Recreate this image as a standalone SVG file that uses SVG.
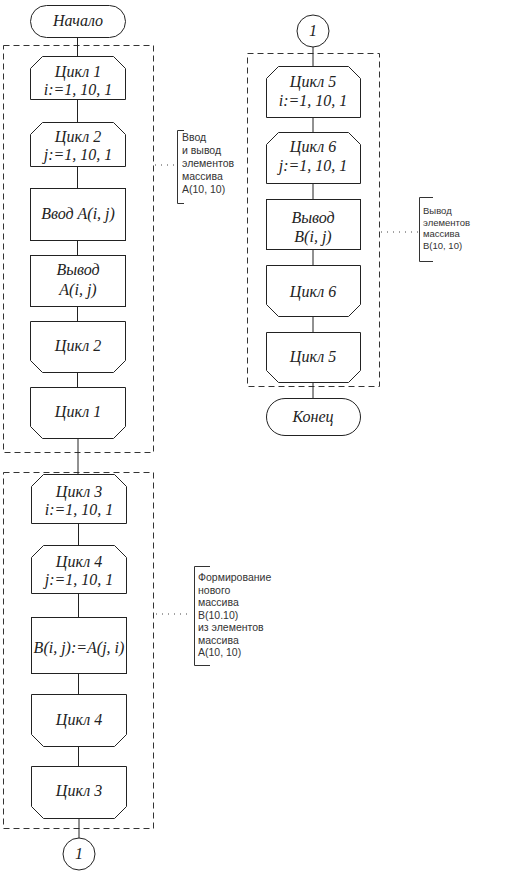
<svg xmlns="http://www.w3.org/2000/svg" width="512" height="875" viewBox="0 0 512 875">
<style>
.n{fill:#fff;stroke:#222;stroke-width:1}
.t{font-family:"Liberation Serif","Times New Roman",serif;font-style:italic;font-size:16px;fill:#222;text-anchor:middle}
.g{fill:none;stroke:#333;stroke-width:1;stroke-dasharray:6,4}
.c{stroke:#222;stroke-width:1;fill:none}
.b{fill:none;stroke:#333;stroke-width:1}
.l{stroke:#444;stroke-width:1;stroke-dasharray:1,5;fill:none}
.a{font-family:"Liberation Sans",Arial,sans-serif;font-size:10.5px;fill:#333}
</style>
<rect width="512" height="875" fill="#fff"/>
<g id="groups">
<rect class="g" x="3.5" y="45.5" width="150" height="407"/>
<rect class="g" x="3.5" y="472.5" width="150" height="356"/>
<rect class="g" x="247.5" y="53.5" width="132" height="333"/>
</g>
<g id="connectors">
<path class="c" d="M77.5 37V56M77.5 99V122M77.5 166V188M77.5 240V255M77.5 306V321M77.5 372V387M78 438V474M78.5 523V545M78.5 593V617M78.5 673V694M78.5 746V766M79 818V838"/>
<path class="c" d="M313 47V66M313 117V132M313 183V199M313 249V265M313 316V332M313 382V398"/>
<path class="l" d="M155 165H176M156 614H192M381 232H418"/>
</g>
<g id="start"><rect class="n" x="30.5" y="5.5" width="95" height="32" rx="16"/><text class="t" x="78" y="26">Начало</text></g>
<g id="loop1"><path class="n" d="M30.5 68.5L42.5 56.5H113.5L125.5 68.5V99.5H30.5Z"/><text class="t" x="78" y="77">Цикл 1</text><text class="t" x="78" y="95">i:=1, 10, 1</text></g>
<g id="loop2"><path class="n" d="M30.5 134.5L42.5 122.5H113.5L125.5 134.5V166.5H30.5Z"/><text class="t" x="78" y="142">Цикл 2</text><text class="t" x="78" y="160">j:=1, 10, 1</text></g>
<g id="inputA"><rect class="n" x="30.5" y="188.5" width="95" height="52"/><text class="t" x="78" y="219">Ввод A(i, j)</text></g>
<g id="outputA"><rect class="n" x="30.5" y="255.5" width="95" height="51"/><text class="t" x="78" y="275">Вывод</text><text class="t" x="78" y="295">A(i, j)</text></g>
<g id="loop2end"><path class="n" d="M30.5 321.5H125.5V360.5L113.5 372.5H42.5L30.5 360.5Z"/><text class="t" x="78" y="351">Цикл 2</text></g>
<g id="loop1end"><path class="n" d="M30.5 387.5H125.5V426.5L113.5 438.5H42.5L30.5 426.5Z"/><text class="t" x="78" y="417">Цикл 1</text></g>
<g id="loop3"><path class="n" d="M31.5 486.5L43.5 474.5H114.5L126.5 486.5V523.5H31.5Z"/><text class="t" x="79" y="497">Цикл 3</text><text class="t" x="79" y="515">i:=1, 10, 1</text></g>
<g id="loop4"><path class="n" d="M31.5 557.5L43.5 545.5H114.5L126.5 557.5V593.5H31.5Z"/><text class="t" x="79" y="567">Цикл 4</text><text class="t" x="79" y="585">j:=1, 10, 1</text></g>
<g id="assign"><rect class="n" x="31.5" y="617.5" width="95" height="56"/><text class="t" x="79" y="653">B(i, j):=A(j, i)</text></g>
<g id="loop4end"><path class="n" d="M31.5 694.5H126.5V734.5L114.5 746.5H43.5L31.5 734.5Z"/><text class="t" x="79" y="725">Цикл 4</text></g>
<g id="loop3end"><path class="n" d="M31.5 766.5H126.5V806.5L114.5 818.5H43.5L31.5 806.5Z"/><text class="t" x="79" y="796">Цикл 3</text></g>
<g id="conn1out"><circle class="n" cx="79" cy="854" r="16"/><text class="t" x="79" y="859">1</text></g>
<g id="conn1in"><circle class="n" cx="313" cy="31" r="16"/><text class="t" x="313" y="36">1</text></g>
<g id="loop5"><path class="n" d="M266.5 78.5L278.5 66.5H348.5L360.5 78.5V117.5H266.5Z"/><text class="t" x="313" y="87">Цикл 5</text><text class="t" x="313" y="106">i:=1, 10, 1</text></g>
<g id="loop6"><path class="n" d="M266.5 144.5L278.5 132.5H348.5L360.5 144.5V183.5H266.5Z"/><text class="t" x="313" y="152">Цикл 6</text><text class="t" x="313" y="171">j:=1, 10, 1</text></g>
<g id="outputB"><rect class="n" x="266.5" y="199.5" width="94" height="50"/><text class="t" x="313" y="223">Вывод</text><text class="t" x="313" y="242">B(i, j)</text></g>
<g id="loop6end"><path class="n" d="M266.5 265.5H360.5V304.5L348.5 316.5H278.5L266.5 304.5Z"/><text class="t" x="313" y="297">Цикл 6</text></g>
<g id="loop5end"><path class="n" d="M266.5 332.5H360.5V370.5L348.5 382.5H278.5L266.5 370.5Z"/><text class="t" x="313" y="362">Цикл 5</text></g>
<g id="end"><rect class="n" x="266.5" y="398.5" width="94" height="37" rx="18.5"/><text class="t" x="313" y="422">Конец</text></g>
<g id="note1"><path class="b" d="M184 130.5H177.5V203.5H184"/>
<text class="a" x="182" y="141">Ввод</text><text class="a" x="182" y="154">и вывод</text><text class="a" x="182" y="167">элементов</text><text class="a" x="182" y="180">массива</text><text class="a" x="182" y="193">A(10, 10)</text></g>
<g id="note2"><path class="b" d="M210 566.5H194.5V665.5H210"/>
<text class="a" x="198" y="581">Формирование</text><text class="a" x="198" y="593.5">нового</text><text class="a" x="198" y="606">массива</text><text class="a" x="198" y="618.5">B(10.10)</text><text class="a" x="198" y="631">из элементов</text><text class="a" x="198" y="643.5">массива</text><text class="a" x="198" y="656">A(10, 10)</text></g>
<g id="note3"><path class="b" d="M433 197.5H419.5V261.5H433"/>
<text class="a" x="423" y="214" style="font-size:9.5px">Вывод</text><text class="a" x="423" y="225.5" style="font-size:9.5px">элементов</text><text class="a" x="423" y="237" style="font-size:9.5px">массива</text><text class="a" x="423" y="248.5" style="font-size:9.5px">B(10, 10)</text></g>
</svg>
